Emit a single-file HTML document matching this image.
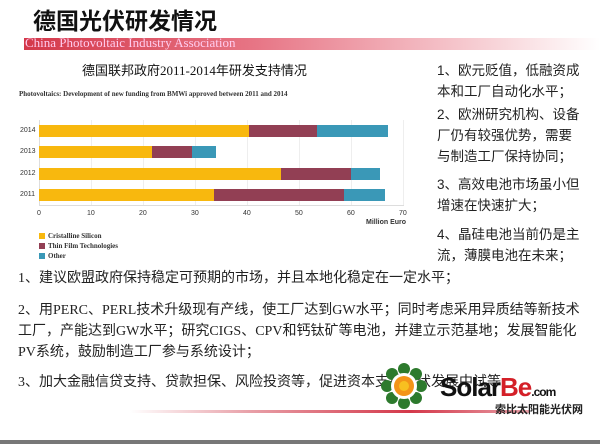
<!DOCTYPE html>
<html><head><meta charset="utf-8"><style>
body{margin:0;width:600px;height:444px;background:#fff;position:relative;overflow:hidden;font-family:"Liberation Serif","Noto Serif CJK SC","Noto Sans CJK SC",serif;}
.a{position:absolute;white-space:nowrap}
.cn{font-family:"Liberation Serif","Noto Sans CJK SC",sans-serif}
.bar{position:absolute;height:12px}
.y{background:#f8b80e}.r{background:#923f54}.b{background:#3a98b7}
.t{position:absolute;font-size:7px;color:#333;font-family:"Liberation Sans",sans-serif}
</style></head><body>
<div class="a" style="left:33px;top:2px;font-size:23px;font-weight:bold;font-family:'Noto Sans CJK SC',sans-serif;color:#111">德国光伏研发情况</div>
<div class="a" style="left:24px;top:38px;width:576px;height:12px;background:linear-gradient(90deg,#d4384a 0%,#e77585 40%,#f7d0d5 80%,#fff 100%)"></div>
<div class="a" style="left:25px;top:35px;font-size:13px;color:#fce">China Photovoltaic Industry Association</div>
<div class="a" style="left:82px;top:60px;font-size:13px;font-family:'Liberation Serif','Noto Sans CJK SC',sans-serif;color:#111">德国联邦政府2011-2014年研发支持情况</div>
<div class="a" style="left:19px;top:90px;font-size:7px;font-weight:bold;color:#333">Photovoltaics: Development of new funding from BMWi approved between 2011 and 2014</div>
<div class="a" style="left:39px;top:120px;width:1px;height:86px;background:#ddd"></div>
<div class="a" style="left:91px;top:120px;width:1px;height:86px;background:#eee"></div>
<div class="a" style="left:143px;top:120px;width:1px;height:86px;background:#eee"></div>
<div class="a" style="left:195px;top:120px;width:1px;height:86px;background:#eee"></div>
<div class="a" style="left:247px;top:120px;width:1px;height:86px;background:#eee"></div>
<div class="a" style="left:299px;top:120px;width:1px;height:86px;background:#eee"></div>
<div class="a" style="left:351px;top:120px;width:1px;height:86px;background:#eee"></div>
<div class="a" style="left:403px;top:120px;width:1px;height:86px;background:#eee"></div>
<div class="a" style="left:39px;top:205px;width:365px;height:1px;background:#ddd"></div>
<div class="t" style="left:20px;top:127px">2014</div>
<div class="t" style="left:20px;top:148px">2013</div>
<div class="t" style="left:20px;top:170px">2012</div>
<div class="t" style="left:20px;top:191px">2011</div>
<div class="bar y" style="left:39px;top:125px;width:210px"></div><div class="bar r" style="left:249px;top:125px;width:68px"></div><div class="bar b" style="left:317px;top:125px;width:71px"></div>
<div class="bar y" style="left:39px;top:146px;width:113px"></div><div class="bar r" style="left:152px;top:146px;width:40px"></div><div class="bar b" style="left:192px;top:146px;width:24px"></div>
<div class="bar y" style="left:39px;top:168px;width:242px"></div><div class="bar r" style="left:281px;top:168px;width:70px"></div><div class="bar b" style="left:351px;top:168px;width:29px"></div>
<div class="bar y" style="left:39px;top:189px;width:175px"></div><div class="bar r" style="left:214px;top:189px;width:130px"></div><div class="bar b" style="left:344px;top:189px;width:41px"></div>
<div class="t" style="left:37px;top:210px">0</div><div class="t" style="left:87px;top:210px">10</div><div class="t" style="left:139px;top:210px">20</div><div class="t" style="left:191px;top:210px">30</div><div class="t" style="left:243px;top:210px">40</div><div class="t" style="left:295px;top:210px">50</div><div class="t" style="left:347px;top:210px">60</div><div class="t" style="left:399px;top:210px">70</div>
<div class="t" style="left:366px;top:219px;font-weight:bold">Million Euro</div>
<div class="a y" style="left:39px;top:233px;width:6px;height:6px"></div><div class="t" style="left:48px;top:232px;font-family:'Liberation Serif';font-weight:bold">Cristalline Silicon</div>
<div class="a r" style="left:39px;top:243px;width:6px;height:6px"></div><div class="t" style="left:48px;top:242px;font-family:'Liberation Serif';font-weight:bold">Thin Film Technologies</div>
<div class="a b" style="left:39px;top:253px;width:6px;height:6px"></div><div class="t" style="left:48px;top:252px;font-family:'Liberation Serif';font-weight:bold">Other</div>
<div class="a" style="left:437px;top:60px;font-size:13.5px;line-height:21px;color:#222;font-family:'Liberation Sans','Noto Sans CJK SC',sans-serif">1、欧元贬值，低融资成<br>本和工厂自动化水平；<br><div style="height:2px"></div>2、欧洲研究机构、设备<br>厂仍有较强优势，需要<br>与制造工厂保持协同；<br><div style="height:7px"></div>3、高效电池市场虽小但<br>增速在快速扩大；<br><div style="height:8px"></div>4、晶硅电池当前仍是主<br>流，薄膜电池在未来；</div>
<div class="a cn" style="left:18px;top:268px;font-size:14px;line-height:21px;color:#222">1、建议欧盟政府保持稳定可预期的市场，并且本地化稳定在一定水平；<br><div style="height:11px"></div>2、用PERC、PERL技术升级现有产线，使工厂达到GW水平；同时考虑采用异质结等新技术<br>工厂，产能达到GW水平；研究CIGS、CPV和钙钛矿等电池，并建立示范基地；发展智能化<br>PV系统，鼓励制造工厂参与系统设计；<br><div style="height:9px"></div>3、加大金融信贷支持、贷款担保、风险投资等，促进资本支持光伏发展中试等</div>
<div class="a" style="left:130px;top:410px;width:400px;height:3px;background:linear-gradient(90deg,#fff,#e8a0a8 30%,#d4384a 70%,#e8a0a8)"></div>
<div class="a" style="left:0;top:440px;width:600px;height:4px;background:#777"></div>
<svg class="a" style="left:380px;top:362px" width="48" height="48" viewBox="0 0 48 48">
<g fill="#2d7a2d"><circle cx="24" cy="7" r="6"/><circle cx="24" cy="41" r="6"/><circle cx="7" cy="24" r="6"/><circle cx="41" cy="24" r="6"/><circle cx="12" cy="12" r="6"/><circle cx="36" cy="12" r="6"/><circle cx="12" cy="36" r="6"/><circle cx="36" cy="36" r="6"/></g>
<circle cx="24" cy="24" r="13" fill="#fff"/><circle cx="24" cy="24" r="10" fill="#f39418"/><circle cx="24" cy="24" r="5" fill="#f8c020"/></svg>
<div class="a" style="left:440px;top:372px;font-size:26px;font-weight:bold;font-family:'Liberation Sans',sans-serif;letter-spacing:-1px"><span style="color:#111">Solar</span><span style="color:#d42028">Be</span><span style="color:#111;font-size:12px">.com</span></div>
<div class="a" style="left:495px;top:401px;font-size:11px;font-weight:bold;color:#222;font-family:'Noto Sans CJK SC',sans-serif">索比太阳能光伏网</div>
</body></html>
